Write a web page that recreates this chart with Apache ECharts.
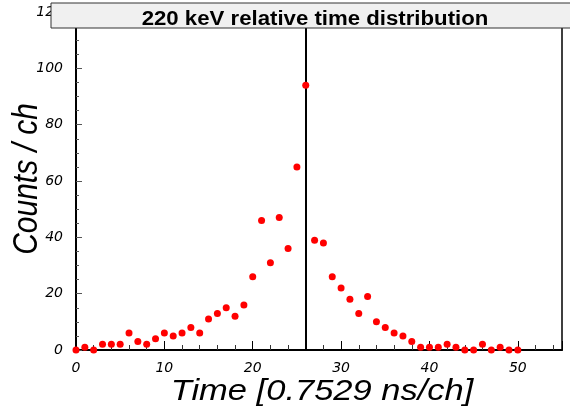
<!DOCTYPE html>
<html>
<head>
<meta charset="utf-8">
<script src="https://cdn.jsdelivr.net/npm/echarts@6/dist/echarts.min.js"></script>
<style>
  html, body { margin: 0; padding: 0; background: #fff; }
  #chart { width: 570px; height: 410px; }
</style>
</head>
<body>
<div id="chart"></div>
<script>
// Channel numbers (relative time bins) and counts per channel
var channels = [0,1,2,3,4,5,6,7,8,9,10,11,12,13,14,15,16,17,18,19,20,21,22,23,24,25,26,27,28,29,30,31,32,33,34,35,36,37,38,39,40,41,42,43,44,45,46,47,48,49,50];
var counts = [0,1,0,2,2,2,6,3,2,4,6,5,6,8,6,11,13,15,12,16,26,46,31,47,36,65,94,39,38,26,22,18,13,19,10,8,6,5,3,1,1,1,2,1,0,0,2,0,1,0,0];
// Reference channel marked by a vertical line
var referenceChannel = 26;

var titleText = '220 keV relative time distribution';
var xTitle = 'Time [0.7529 ns/ch]';
var yTitle = 'Counts / ch';

var points = channels.map(function (c, i) { return [c, counts[i]]; });

var font = 'Liberation Sans, Arial, Helvetica, sans-serif';
var tickFont = 'DejaVu Sans, Verdana, sans-serif';
var chart = echarts.init(document.getElementById('chart'), null, { renderer: 'canvas' });

chart.setOption({
  animation: false,
  backgroundColor: '#ffffff',
  grid: {
    left: 76, right: 8, top: 12, bottom: 60,
    containLabel: false, outerBoundsMode: 'none',
    show: true, borderColor: '#000', borderWidth: 1.5, backgroundColor: 'transparent'
  },
  xAxis: {
    type: 'value', min: 0, max: 55, interval: 10,
    axisLine: { show: true, onZero: false, lineStyle: { color: '#000', width: 2 } },
    axisTick: { show: true, inside: true, length: 9, lineStyle: { color: '#000', width: 1 } },
    minorTick: { show: true, splitNumber: 5, length: 5, lineStyle: { color: '#333', width: 1 } },
    splitLine: { show: false },
    axisLabel: { margin: 11, fontFamily: tickFont, fontStyle: 'italic', fontSize: 14, color: '#000',
      showMaxLabel: false }
  },
  yAxis: {
    type: 'value', min: 0, max: 120, interval: 20,
    axisLine: { show: true, onZero: false, lineStyle: { color: '#000', width: 2 } },
    axisTick: { show: true, inside: true, length: 6, lineStyle: { color: '#555', width: 1 } },
    minorTick: { show: true, splitNumber: 4, length: 3, lineStyle: { color: '#555', width: 1 } },
    splitLine: { show: false },
    axisLabel: { margin: 13, fontFamily: tickFont, fontStyle: 'italic', fontSize: 14, color: '#000' }
  },
  series: [{
    type: 'scatter',
    data: points,
    symbol: 'circle',
    symbolSize: 7,
    itemStyle: { color: '#ff0000', opacity: 1 },
    z: 3,
    markLine: {
      silent: true,
      symbol: ['none', 'none'],
      label: { show: false },
      lineStyle: { color: '#000', width: 2, type: 'solid' },
      data: [{ xAxis: referenceChannel }],
      z: 2
    }
  }],
  graphic: [
    // axis titles (slightly widened lettering)
    {
      type: 'text', x: 322, y: 392, scaleX: 1.15, z: 50,
      style: { text: xTitle, fill: '#000', font: 'italic 30px ' + font,
        textAlign: 'center', textVerticalAlign: 'middle' }
    },
    {
      type: 'text', x: 27, y: 179, rotation: Math.PI / 2, scaleY: 1.15, z: 50,
      style: { text: yTitle, fill: '#000', font: 'italic 30px ' + font,
        textAlign: 'center', textVerticalAlign: 'middle' }
    },
    // title box
    {
      type: 'rect', z: 100,
      shape: { x: 51, y: 3, width: 530, height: 25 },
      style: { fill: '#f0f0f0', stroke: '#333', lineWidth: 1 }
    },
    {
      type: 'text', x: 315, y: 19.5, scaleX: 1.11, z: 101,
      style: { text: titleText, fill: '#000', font: 'bold 20px ' + font,
        textAlign: 'center', textVerticalAlign: 'middle' }
    }
  ]
});
</script>
</body>
</html>
